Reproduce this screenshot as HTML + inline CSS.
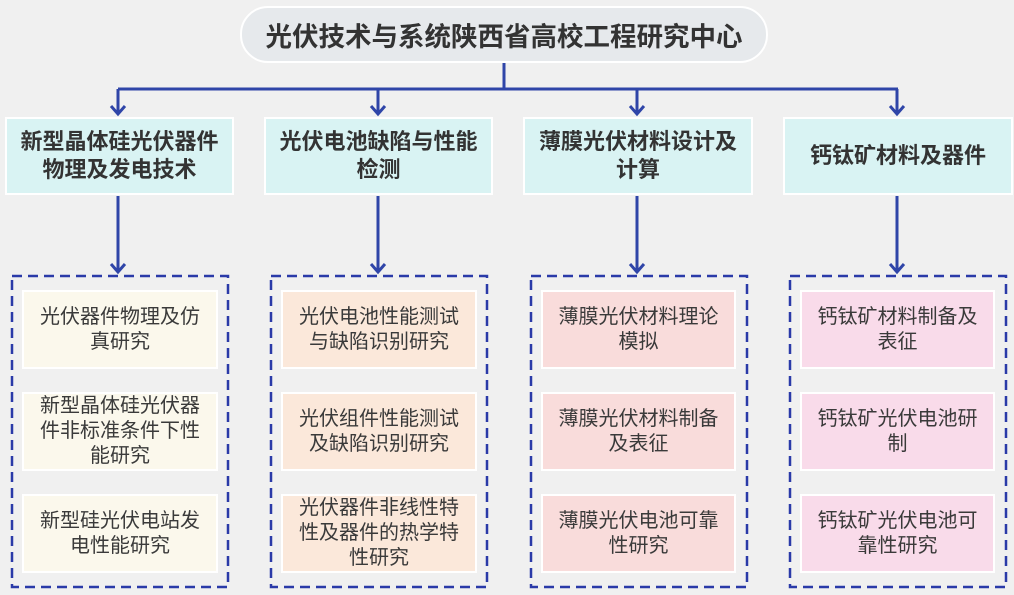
<!DOCTYPE html><html><head><meta charset="utf-8"><style>
body{margin:0;width:1014px;height:595px;background:#f0f0f0;position:relative;overflow:hidden;font-family:"Liberation Sans","Noto Sans CJK SC",sans-serif;}
.a{position:absolute;box-sizing:border-box;display:flex;align-items:center;justify-content:center;text-align:center;white-space:nowrap;}
.t{left:240px;top:6px;width:528px;height:57px;border:2px solid #fff;border-radius:28px;background:#e6e9ec;font-size:26.5px;font-weight:bold;color:#333;}
.h{top:117px;height:78px;border:2px solid #fff;background:#d9f3f3;font-size:22px;font-weight:bold;color:#333;line-height:28px;}
.i{height:79px;border:2px solid #fff;font-size:20px;color:#3a3a3a;line-height:25px;}
</style></head><body>
<svg width="1014" height="595" style="position:absolute;left:0;top:0">
<g stroke="#2f45a8" stroke-width="3" fill="none">
<path d="M504 63V89M118 89H898M118 89V114M378 89V114M637 89V114M897 89V114"/>
<path d="M118 196V272M378 196V272M637 196V272M897 196V272"/>
<path d="M111 106l7 8 7-8M371 106l7 8 7-8M630 106l7 8 7-8M890 106l7 8 7-8"/>
<path d="M111 264l7 8 7-8M371 264l7 8 7-8M630 264l7 8 7-8M890 264l7 8 7-8"/>
</g>
<g stroke="#2a3aa8" stroke-width="2.5" fill="none" stroke-dasharray="10,6">
<rect x="12" y="276" width="216" height="311"/>
<rect x="271" y="276" width="216" height="311"/>
<rect x="531" y="276" width="216" height="311"/>
<rect x="790" y="276" width="216" height="311"/>
</g></svg>
<div class="a t">光伏技术与系统陕西省高校工程研究中心</div>
<div class="a h" style="left:5px;width:229px">新型晶体硅光伏器件<br>物理及发电技术</div>
<div class="a h" style="left:264px;width:229px">光伏电池缺陷与性能<br>检测</div>
<div class="a h" style="left:523px;width:230px">薄膜光伏材料设计及<br>计算</div>
<div class="a h" style="left:783px;width:230px">钙钛矿材料及器件</div>
<div class="a i" style="left:22px;top:290px;width:196px;background:#fbf8ec">光伏器件物理及仿<br>真研究</div>
<div class="a i" style="left:22px;top:392px;width:196px;background:#fbf8ec">新型晶体硅光伏器<br>件非标准条件下性<br>能研究</div>
<div class="a i" style="left:22px;top:494px;width:196px;background:#fbf8ec">新型硅光伏电站发<br>电性能研究</div>
<div class="a i" style="left:281px;top:290px;width:196px;background:#fbe8da">光伏电池性能测试<br>与缺陷识别研究</div>
<div class="a i" style="left:281px;top:392px;width:196px;background:#fbe8da">光伏组件性能测试<br>及缺陷识别研究</div>
<div class="a i" style="left:281px;top:494px;width:196px;background:#fbe8da">光伏器件非线性特<br>性及器件的热学特<br>性研究</div>
<div class="a i" style="left:541px;top:290px;width:195px;background:#f9dcdb">薄膜光伏材料理论<br>模拟</div>
<div class="a i" style="left:541px;top:392px;width:195px;background:#f9dcdb">薄膜光伏材料制备<br>及表征</div>
<div class="a i" style="left:541px;top:494px;width:195px;background:#f9dcdb">薄膜光伏电池可靠<br>性研究</div>
<div class="a i" style="left:800px;top:290px;width:195px;background:#f9dbea">钙钛矿材料制备及<br>表征</div>
<div class="a i" style="left:800px;top:392px;width:195px;background:#f9dbea">钙钛矿光伏电池研<br>制</div>
<div class="a i" style="left:800px;top:494px;width:195px;background:#f9dbea">钙钛矿光伏电池可<br>靠性研究</div>
</body></html>
